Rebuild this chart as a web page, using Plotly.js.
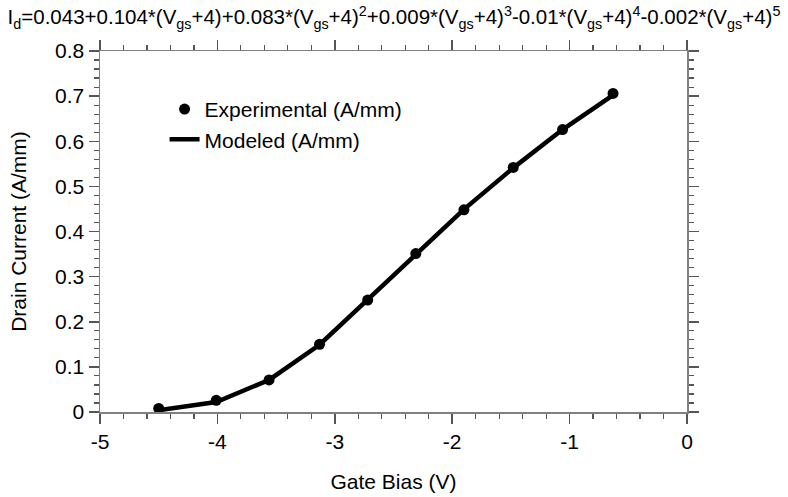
<!DOCTYPE html>
<html>
<head>
<meta charset="utf-8">
<script src="https://cdn.plot.ly/plotly-3.0.1.min.js"></script>
<style>html,body{margin:0;padding:0;background:#fff;}#chart{width:788px;height:497px;}</style>
</head>
<body>
<div id="chart"></div>
<script>
// Data
const gateBias = [-4.50, -4.01, -3.56, -3.13, -2.72, -2.31, -1.90, -1.48, -1.06, -0.63];
const experimental = [0.008, 0.026, 0.071, 0.150, 0.248, 0.351, 0.448, 0.542, 0.626, 0.706];
const modeled = [0.004, 0.022, 0.071, 0.149, 0.249, 0.350, 0.449, 0.541, 0.626, 0.702];
const xTicks = [-5, -4, -3, -2, -1, 0];
const yTicks = [0, 0.1, 0.2, 0.3, 0.4, 0.5, 0.6, 0.7, 0.8];
const seriesNames = ['Experimental (A/mm)', 'Modeled (A/mm)'];
const titleText = 'I<sub>d</sub>=0.043+0.104*(V<sub>gs</sub>+4)+0.083*(V<sub>gs</sub>+4)<sup>2</sup>+0.009*(V<sub>gs</sub>+4)<sup>3</sup>-0.01*(V<sub>gs</sub>+4)<sup>4</sup>-0.002*(V<sub>gs</sub>+4)<sup>5</sup>';

const font = 'Liberation Sans, Arial, sans-serif';
const axisCommon = {
  showgrid: false, zeroline: false,
  showline: true, linecolor: '#808080', linewidth: 1.5,
  mirror: 'allticks', ticks: 'outside', ticklen: 10, tickwidth: 1.5, tickcolor: '#555',
  tickfont: {family: font, size: 21, color: '#000'}
};

const traces = [
  {x: gateBias, y: experimental, name: seriesNames[0], mode: 'markers', type: 'scatter',
   marker: {color: '#000', size: 11}},
  {x: gateBias, y: modeled, name: seriesNames[1], mode: 'lines', type: 'scatter',
   line: {color: '#000', width: 4.5}}
];

const layout = {
  width: 788, height: 497,
  paper_bgcolor: '#fff', plot_bgcolor: '#fff',
  margin: {l: 100, r: 101, t: 51, b: 85},
  font: {family: font, color: '#000'},
  title: {text: titleText, x: 0.5, xanchor: 'center', y: 0.98, yanchor: 'top',
          font: {family: 'Liberation Sans Narrow, Arial Narrow, Liberation Sans, sans-serif', size: 20.5, color: '#000'}},
  xaxis: Object.assign({}, axisCommon, {
    range: [-5, 0], tickvals: xTicks, ticktext: xTicks.map(String),
    minor: {dtick: 0.2, ticks: 'outside', ticklen: 5, tickwidth: 1.2, tickcolor: '#555'},
    title: {text: 'Gate Bias (V)', font: {family: font, size: 21, color: '#000'}, standoff: 22}
  }),
  yaxis: Object.assign({}, axisCommon, {
    range: [0, 0.8], tickvals: yTicks, ticktext: yTicks.map(v => v === 0 ? '0' : v.toFixed(1)),
    minor: {dtick: 0.02, ticks: 'outside', ticklen: 5, tickwidth: 1.2, tickcolor: '#555'},
    title: {text: 'Drain Current (A/mm)', font: {family: font, size: 21, color: '#000'}, standoff: 22}
  }),
  showlegend: true,
  legend: {x: 0.11, y: 0.895, xanchor: 'left', yanchor: 'top', bgcolor: 'rgba(0,0,0,0)',
           font: {family: font, size: 21, color: '#000'}, traceorder: 'normal', tracegroupgap: 0}
};

Plotly.newPlot('chart', traces, layout, {displayModeBar: false, staticPlot: true});
</script>
</body>
</html>
